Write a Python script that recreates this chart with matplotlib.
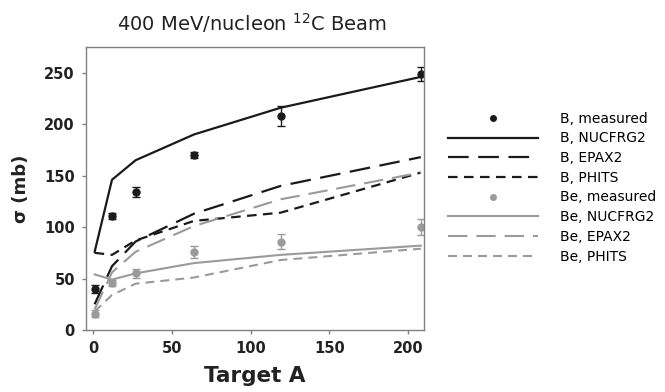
import matplotlib
matplotlib.use("Agg")
import matplotlib.pyplot as plt
from matplotlib.lines import Line2D

# target mass numbers (H, C, Al, Cu, Sn, Pb)
target_a = [1, 12, 27, 64, 119, 208]

# boron fragments
b_meas = [40, 111, 134, 170, 208, 249]
b_err = [4, 3, 5, 3, 10, 7]
b_nucfrg2 = [76, 146, 165, 190, 216, 246]
b_epax2 = [25, 62, 86, 113, 140, 168]
b_phits = [75, 73, 87, 106, 114, 153]

# beryllium fragments
be_meas = [16, 46, 55, 76, 86, 100]
be_err = [3, 3, 4, 6, 7, 8]
be_nucfrg2 = [54, 49, 55, 65, 73, 82]
be_epax2 = [20, 56, 76, 101, 127, 153]
be_phits = [18, 34, 45, 51, 68, 79]

black = "#1a1a1a"
grey = "#9a9a9a"
long_dash = (0, (9.3, 4.3))
short_dash = (0, (4.3, 2.9))

plt.rcParams["font.family"] = "DejaVu Sans"

fig = plt.figure(figsize=(6.65, 3.92), dpi=100)
ax = fig.add_axes([0.1293, 0.1582, 0.5083, 0.7218])

ax.errorbar(target_a, b_meas, yerr=b_err, fmt="o", color=black, ms=5,
            capsize=3, elinewidth=1, capthick=1, label="B, measured")
ax.plot(target_a, b_nucfrg2, color=black, lw=1.6, label="B, NUCFRG2")
ax.plot(target_a, b_epax2, color=black, lw=1.6, ls=long_dash, label="B, EPAX2")
ax.plot(target_a, b_phits, color=black, lw=1.6, ls=short_dash, label="B, PHITS")
ax.errorbar(target_a, be_meas, yerr=be_err, fmt="o", color=grey, ms=5,
            capsize=3, elinewidth=1, capthick=1, label="Be, measured")
ax.plot(target_a, be_nucfrg2, color=grey, lw=1.5, label="Be, NUCFRG2")
ax.plot(target_a, be_epax2, color=grey, lw=1.5, ls=long_dash, label="Be, EPAX2")
ax.plot(target_a, be_phits, color=grey, lw=1.5, ls=short_dash, label="Be, PHITS")

ax.set_xlim(-4.5, 210)
ax.set_ylim(0, 275)
ax.set_xticks([0, 50, 100, 150, 200])
ax.set_yticks([0, 50, 100, 150, 200, 250])
for s in ax.spines.values():
    s.set_color("#808080")
    s.set_linewidth(1)
ax.tick_params(direction="out", length=3, width=1, color="#808080",
               labelsize=10.5, pad=5)
for lab in ax.get_xticklabels() + ax.get_yticklabels():
    lab.set_fontweight("bold")
    lab.set_color("#222222")

ax.set_xlabel("Target A", fontsize=15.5, fontweight="bold", labelpad=7, color="#222222")
ax.set_ylabel("σ (mb)", fontsize=13, fontweight="bold", labelpad=10, color="#222222")
fig.text(0.379, 0.94, "400 MeV/nucleon $^{12}$C Beam", fontsize=14,
         ha="center", va="center", color="#222222")

# legend without error bars on the measured entries
handles, labels = ax.get_legend_handles_labels()
fixed = []
for h, l in zip(handles, labels):
    if "measured" in l:
        c = black if l.startswith("B,") else grey
        fixed.append(Line2D([], [], ls="none", marker="o", ms=4, color=c))
    else:
        fixed.append(h)
order = ["B, measured", "B, NUCFRG2", "B, EPAX2", "B, PHITS",
         "Be, measured", "Be, NUCFRG2", "Be, EPAX2", "Be, PHITS"]
hmap = dict(zip(labels, fixed))
fig.legend([hmap[k] for k in order], order, loc="upper left",
           bbox_to_anchor=(0.673, 0.715), frameon=False, fontsize=10,
           handlelength=6.5, handletextpad=1.6, labelspacing=0.41,
           borderaxespad=0, borderpad=0)

fig.savefig("out.png", dpi=100)
